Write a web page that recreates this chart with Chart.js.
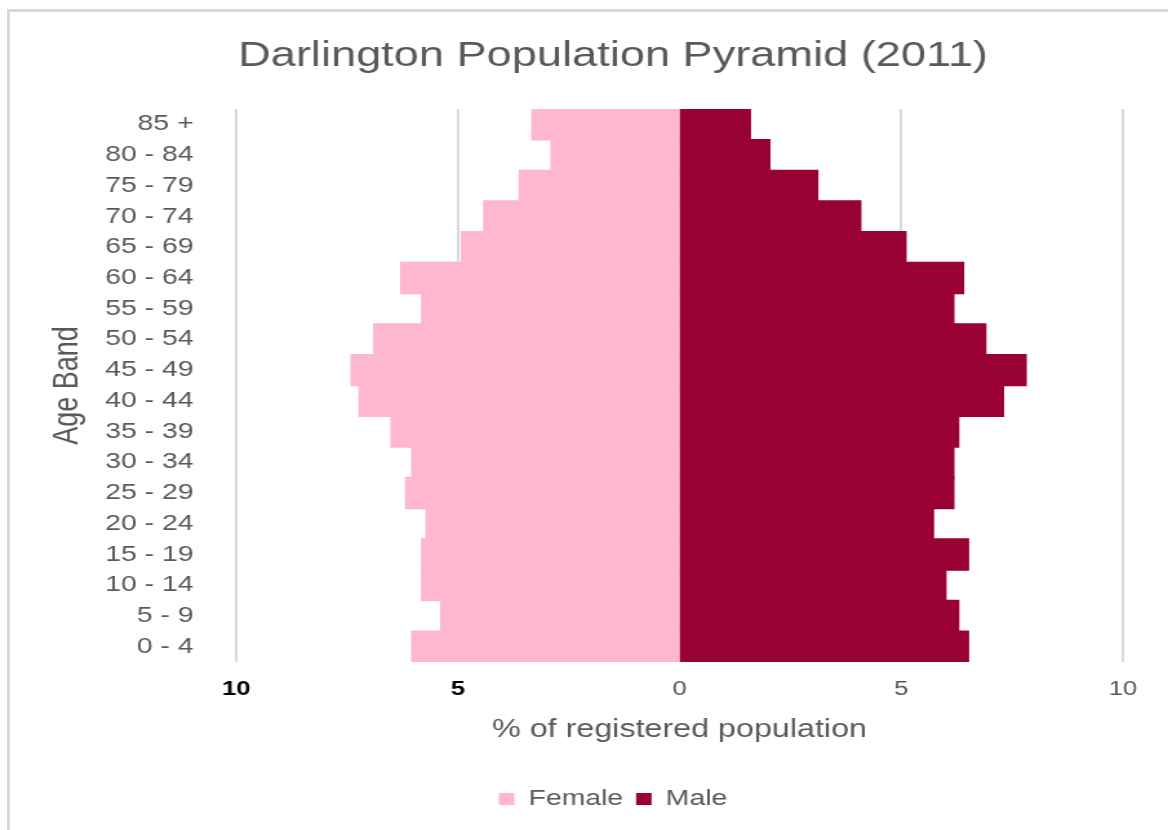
<!DOCTYPE html>
<html>
<head>
<meta charset="utf-8">
<title>Darlington Population Pyramid (2011)</title>
<script src="https://cdn.jsdelivr.net/npm/chart.js@4/dist/chart.umd.min.js"></script>
<style>
  html, body { margin: 0; padding: 0; background: #fff; overflow: hidden; }
  body { width: 1168px; height: 830px; position: relative; }
  #frame {
    position: absolute; left: 7px; top: 9px; right: -10px; bottom: -10px;
    border-left: 3px solid #d9d9d9; border-top: 3px solid #d9d9d9;
  }
  /* the source picture is a horizontally stretched screenshot */
  #c { position: absolute; left: 0; top: 0; transform: scaleX(1.29061); transform-origin: 0 0; }
</style>
</head>
<body>
<div id="frame"></div>
<canvas id="c" width="960" height="830"></canvas>
<script>
// top to bottom, as drawn
const ageBands = ['85 +', '80 - 84', '75 - 79', '70 - 74', '65 - 69', '60 - 64', '55 - 59',
  '50 - 54', '45 - 49', '40 - 44', '35 - 39', '30 - 34', '25 - 29', '20 - 24',
  '15 - 19', '10 - 14', '5 - 9', '0 - 4']
const female = [3.32, 2.89, 3.61, 4.41, 4.91, 6.28, 5.81, 6.89, 7.40,
  7.22, 6.50, 6.03, 6.17, 5.71, 5.81, 5.81, 5.38, 6.03]
const male = [1.59, 2.03, 3.11, 4.08, 5.10, 6.40, 6.18, 6.90, 7.81,
  7.30, 6.29, 6.18, 6.18, 5.72, 6.51, 6.00, 6.29, 6.51]
const xTicks = [-10, -5, 0, 5, 10]

const grey = '#595959'
Chart.defaults.font.family = "'Liberation Sans', Arial, sans-serif"
Chart.defaults.color = grey

new Chart(document.getElementById('c'), {
  type: 'bar',
  data: {
    labels: ageBands,
    datasets: [
      {
        label: 'Female',
        data: female.map(v => -v),
        backgroundColor: '#ffb6cf',
        borderWidth: 0,
        inflateAmount: 0.8,
        barPercentage: 1,
        categoryPercentage: 1
      },
      {
        label: 'Male',
        data: male,
        backgroundColor: '#990033',
        borderWidth: 0,
        inflateAmount: 0.8,
        barPercentage: 1,
        categoryPercentage: 1
      }
    ]
  },
  options: {
    indexAxis: 'y',
    responsive: false,
    animation: false,
    devicePixelRatio: 1,
    layout: { padding: { left: 0, right: 10, top: 0, bottom: 10 } },
    plugins: {
      title: {
        display: true,
        text: 'Darlington Population Pyramid (2011)',
        color: grey,
        font: { size: 35, weight: 'normal' },
        padding: { top: 35, bottom: 32 }
      },
      legend: {
        position: 'bottom',
        labels: {
          color: grey,
          font: { size: 22 },
          boxWidth: 12,
          boxHeight: 12,
          padding: 10
        }
      },
      tooltip: { enabled: false }
    },
    scales: {
      x: {
        stacked: true,
        min: -10,
        max: 10,
        afterBuildTicks: scale => { scale.ticks = xTicks.map(v => ({ value: v })) },
        afterFit: scale => { scale.height = 116 },
        grid: { color: '#d9d9d9', lineWidth: 2, drawTicks: false },
        border: { display: false },
        ticks: {
          padding: 15,
          font: ctx => ({ size: 20, weight: ctx.tick && ctx.tick.value < 0 ? 'bold' : 'normal' }),
          color: ctx => (ctx.tick && ctx.tick.value < 0 ? '#000' : grey),
          callback: value => Math.abs(value)
        },
        title: {
          display: true,
          text: '% of registered population',
          color: grey,
          font: { size: 25 },
          padding: { top: 0, bottom: 33 }
        }
      },
      y: {
        stacked: true,
        afterFit: scale => { scale.width = 183 },
        grid: { display: false, drawTicks: false },
        border: { display: false },
        ticks: {
          padding: 33,
          color: grey,
          font: { size: 22 },
          autoSkip: false
        },
        title: {
          display: true,
          text: 'Age Band',
          color: grey,
          font: { size: 27 },
          padding: { top: 36, bottom: 0 }
        }
      },
      // empty right-hand strip so the title and legend sit where they do in the source
      spacer: {
        type: 'linear',
        position: 'right',
        afterFit: scale => { scale.width = 80 },
        grid: { display: false, drawTicks: false },
        border: { display: false },
        ticks: { display: false }
      }
    }
  }
})
</script>
</body>
</html>
